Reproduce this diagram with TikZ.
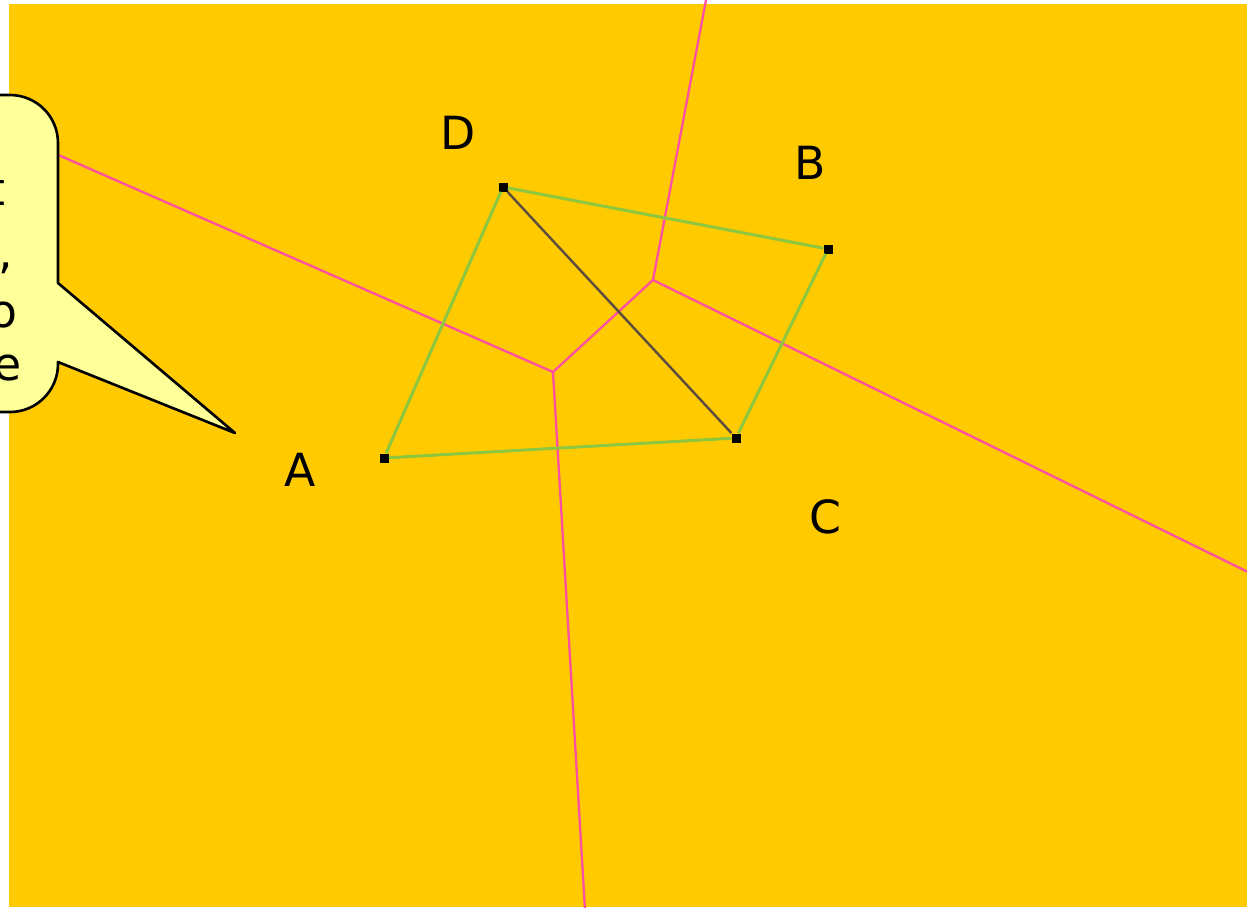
\documentclass[tikz,border=0pt]{standalone}
\usepackage{fontspec}
\setmainfont{DejaVu Sans}
\usetikzlibrary{positioning}
\definecolor{amber}{HTML}{FFCA00}
\definecolor{cream}{HTML}{FFFF99}
\definecolor{lime}{HTML}{8DC63F}
\definecolor{rose}{HTML}{FF4FA3}
\definecolor{umber}{HTML}{5E4E3E}

\begin{document}
\begin{tikzpicture}[x=0.02cm,y=-0.02cm,every node/.style={font=\fontsize{26}{30}\selectfont,inner sep=0pt},site/.style={fill=black,minimum size=0.18cm},edge/.style={lime,line width=1.7pt},cell/.style={rose,line width=1.3pt},bubble/.style={draw=black,fill=cream,line width=1.5pt,line join=round}]
\useasboundingbox (0,0) rectangle (1247,907);
\clip (0,0) rectangle (1247,907);
\fill[amber] (9,4) rectangle (1247,907);
% Voronoi cells
\coordinate (v1) at (553,372); \coordinate (v2) at (653,280);
\coordinate (top) at (706,0); \coordinate (right) at (1250,573);
\coordinate (left) at (-10,125); \coordinate (bottom) at (585,910);
\draw[cell] (left)--(v1)--(v2)--(top);
\draw[cell] (v2)--(right);
\draw[cell] (v1)--(bottom);
% sites
\node[site] (A) at (384,458) {}; \node[site] (B) at (828,249) {};
\node[site] (C) at (736,438) {}; \node[site] (D) at (503,187) {};
\draw[edge] (D)--(B)--(C)--(A)--(D);
\draw[umber,line width=1.4pt] (D)--(C);
\node (la) at (300,470) {A}; \node (lb) at (810,163) {B};
\node (lc) at (825,517) {C}; \node (ld) at (458,133) {D};
% callout
\coordinate (tip) at (235,433);
\draw[bubble] (-100,95)--(10,95) arc[start angle=-90,end angle=0,radius=48]--(58,283)--(tip)--(58,362)--(58,364) arc[start angle=0,end angle=90,radius=48]--(-100,412)--cycle;
\node[anchor=base east] (t1) at (6,205) {t};
\node[anchor=base east] (t2) at (13,268) {,};
\node[anchor=base east] (t3) at (18,327) {o};
\node[anchor=base east] (t4) at (22,380) {e};
\end{tikzpicture}
\end{document}
